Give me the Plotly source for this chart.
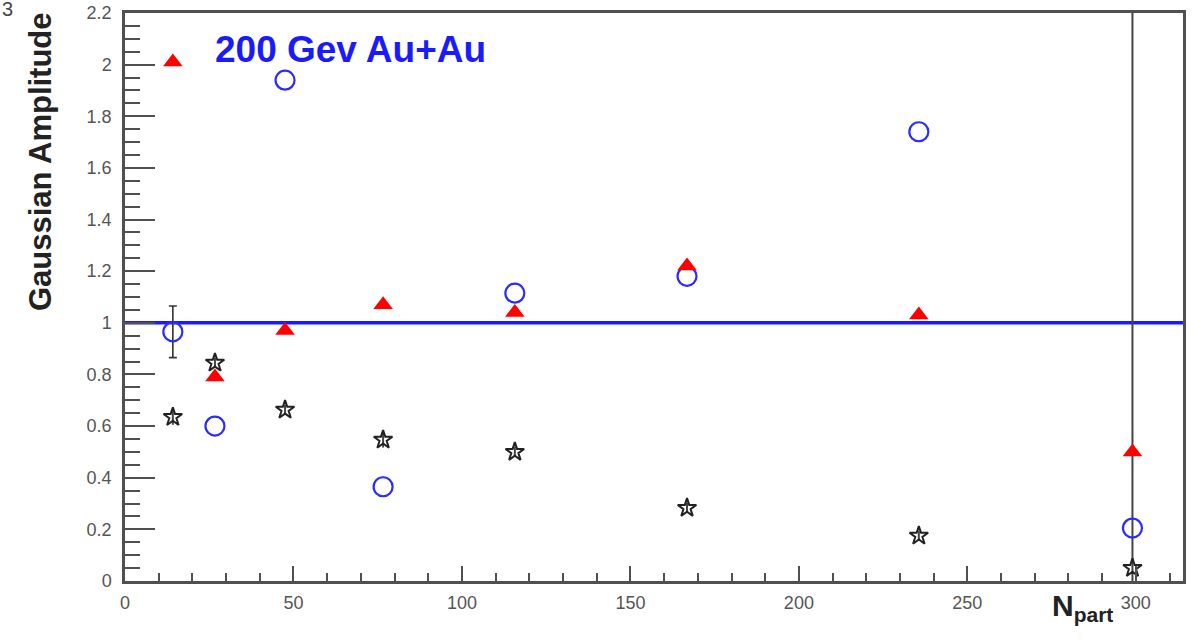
import plotly.graph_objects as go

# Centrality bins (number of participants)
npart = [14.2, 26.7, 47.5, 76.6, 115.7, 166.8, 235.6, 299.0]

# Gaussian amplitudes for the three components
amp_triangle = [2.01, 0.79, 0.97, 1.07, 1.04, 1.22, 1.03, 0.50]
amp_circle = [0.965, 0.60, 1.94, 0.365, 1.115, 1.18, 1.74, 0.205]
amp_circle_err = [0.10, 0, 0, 0, 0, 0, 0, 0]
amp_star = [0.635, 0.845, 0.663, 0.547, 0.50, 0.283, 0.175, 0.05]
amp_star_err = [0.03, 0.02, 0.02, 0.03, 0.02, 0.02, 0.02, 3.0]

reference_level = 1.0
x_range = [0, 314]
y_range = [0, 2.2]

frame = "#505050"
font_family = "Liberation Sans, Arial, sans-serif"
tick_font = dict(family=font_family, size=18, color="#555555")

fig = go.Figure()

fig.add_trace(go.Scatter(
    x=x_range, y=[reference_level, reference_level], mode="lines",
    line=dict(color="#1a1aff", width=3.5), hoverinfo="skip", showlegend=False))

fig.add_trace(go.Scatter(
    x=npart, y=amp_star, mode="markers",
    marker=dict(symbol="star-open", size=14, color="#222222", line=dict(width=2, color="#222222")),
    error_y=dict(type="data", array=amp_star_err, color="#444444", thickness=2, width=0),
    showlegend=False))

# error bars only where the circle series has a non-zero uncertainty
err_idx = [i for i, e in enumerate(amp_circle_err) if e > 0]
fig.add_trace(go.Scatter(
    x=[npart[i] for i in err_idx], y=[amp_circle[i] for i in err_idx], mode="markers",
    marker=dict(size=1, color="rgba(0,0,0,0)"),
    error_y=dict(type="data", array=[amp_circle_err[i] for i in err_idx],
                 color="#333333", thickness=1.6, width=4),
    hoverinfo="skip", showlegend=False))

fig.add_trace(go.Scatter(
    x=npart, y=amp_circle, mode="markers",
    marker=dict(symbol="circle-open", size=19, color="#2b2bff", line=dict(width=2.2, color="#2b2bff")),
    showlegend=False))

fig.add_trace(go.Scatter(
    x=npart, y=amp_triangle, mode="markers",
    marker=dict(symbol="triangle-up", size=17, color="#ff0000", line=dict(width=0)),
    showlegend=False))

fig.update_layout(
    width=1198, height=643,
    margin=dict(l=125, r=15, t=13, b=62, autoexpand=False),
    paper_bgcolor="white", plot_bgcolor="white",
    xaxis=dict(
        range=x_range, tickmode="linear", tick0=0, dtick=50, automargin=False,
        ticks="inside", ticklen=15, tickwidth=2, tickcolor=frame,
        minor=dict(dtick=10, ticks="inside", ticklen=8, tickwidth=2, tickcolor=frame),
        showline=True, linecolor=frame, linewidth=2.5, mirror=True,
        showgrid=False, zeroline=False, tickfont=tick_font, ticklabelstandoff=4),
    yaxis=dict(
        range=y_range, tickmode="linear", tick0=0, dtick=0.2, automargin=False,
        ticks="inside", ticklen=30, tickwidth=2, tickcolor=frame,
        minor=dict(dtick=0.05, ticks="inside", ticklen=15, tickwidth=2, tickcolor=frame),
        showline=True, linecolor=frame, linewidth=2.5, mirror=True,
        showgrid=False, zeroline=False, tickfont=tick_font, ticklabelstandoff=7),
    annotations=[
        dict(text="<b>Gaussian Amplitude</b>", textangle=-90, xref="paper", yref="paper",
             x=-0.08, y=1.005, xanchor="center", yanchor="top", showarrow=False,
             font=dict(family=font_family, size=31, color="#222222")),
        dict(text="<b>200 Gev Au+Au</b>", xref="paper", yref="paper",
             x=0.083, y=0.935, xanchor="left", yanchor="middle", showarrow=False,
             font=dict(family=font_family, size=37, color="#1a1aff")),
        dict(text="<b>N<sub>part</sub></b>", xref="paper", yref="paper",
             x=0.905, y=-0.01, xanchor="center", yanchor="top", showarrow=False,
             font=dict(family=font_family, size=30, color="#222222")),
        dict(text="3", xref="paper", yref="paper", x=-0.118, y=1.03,
             xanchor="left", yanchor="top", showarrow=False,
             font=dict(family=font_family, size=20, color="#444444")),
    ],
)

fig.write_html("out.html")
